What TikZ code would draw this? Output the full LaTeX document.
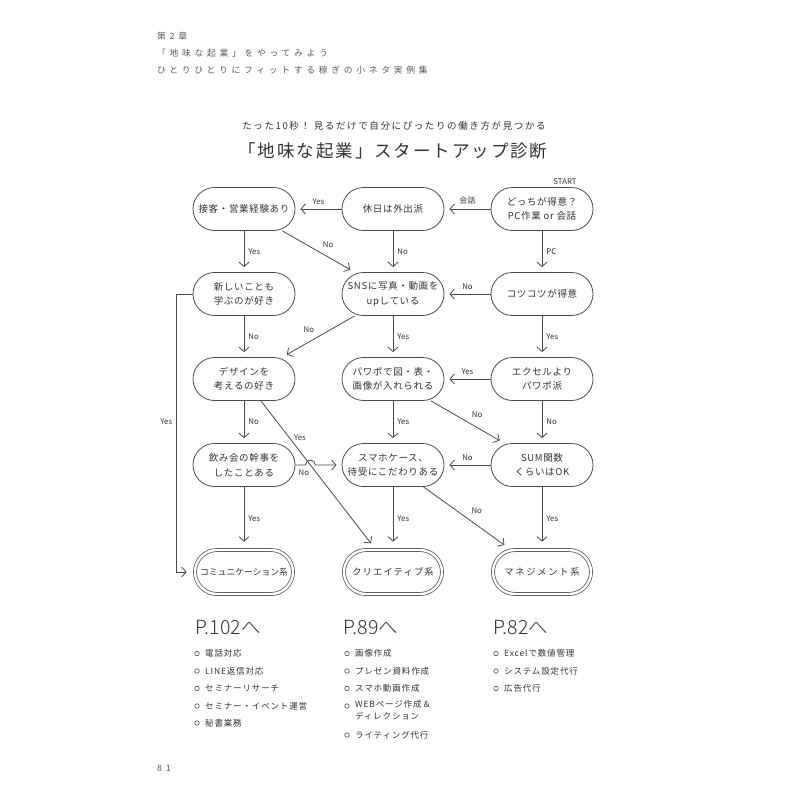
\documentclass[tikz,border=0pt]{standalone}
\usepackage{fontspec}
\setmainfont{Noto Sans CJK JP}
\IfFontExistsTF{Noto Sans CJK JP Light}{\newfontfamily\thinfont{Noto Sans CJK JP Light}}{\newfontfamily\thinfont{Noto Sans CJK JP}}
\usetikzlibrary{arrows.meta,calc}
\definecolor{txt}{HTML}{333333}
\definecolor{ln}{HTML}{4A4A4A}
\definecolor{hdr}{HTML}{5A5A5A}
\newcommand{\jfs}[3]{\fontsize{#1}{#2}\selectfont\addfontfeature{LetterSpace=#3}}
\begin{document}
\begin{tikzpicture}[x=1pt,y=-1pt,
  box/.style={rectangle, rounded corners=21.5pt, draw=ln, line width=0.8pt, minimum width=102pt, minimum height=43pt, inner sep=0pt, align=center, text=txt, font=\jfs{9.5}{14.5}{7}},
  res/.style={rectangle, rounded corners=22pt, draw=ln, line width=0.7pt, double=white, double distance=2.4pt, minimum width=98pt, minimum height=44pt, inner sep=0pt, align=center, text=txt},
  arr/.style={draw=ln, line width=0.8pt, -{Straight Barb[length=4.5pt,width=10pt]}, shorten >=5pt},
  arre/.style={arr, shorten >=8pt},
  lbl/.style={text=txt, font=\jfs{7.8}{9}{0}, inner sep=4pt},
  hdrs/.style={anchor=west, inner sep=0pt, text=hdr, font=\jfs{8.8}{10}{42}},
  bul/.style={circle, draw=ln, line width=0.6pt, minimum size=4.5pt, inner sep=0pt},
  item/.style={anchor=west, inner sep=0pt, text=txt, align=left, font=\jfs{8.5}{12}{10}},
  page/.style={anchor=west, inner sep=0pt, text=txt, font=\thinfont\jfs{19.5}{22}{0}}
]
\useasboundingbox (0,0) rectangle (800,800);
\fill[white] (0,0) rectangle (800,800);

% header
\node[hdrs] (h1) at (157,36) {第2章};
\node[hdrs] (h2) at (157,53) {「地味な起業」をやってみよう};
\node[hdrs] (h3) at (157,70) {ひとりひとりにフィットする稼ぎの小ネタ実例集};

% title
\node[text=txt, inner sep=0pt, font=\jfs{9.5}{11}{17}] (sub) at (394,126) {たった10秒！ 見るだけで自分にぴったりの働き方が見つかる};
\node[text=txt, inner sep=0pt, font=\jfs{17.5}{20}{11}] (ttl) at (393,151) {「地味な起業」スタートアップ診断};

% flowchart nodes
\node[box] (a1) at (244,209) {接客・営業経験あり};
\node[box] (a2) at (393,209) {休日は外出派};
\node[box] (a3) at (542,209) {どっちが得意？\\PC作業 or 会話};
\node[lbl] (start) at (565,182) {START};

\node[box] (b1) at (244,294) {新しいことも\\学ぶのが好き};
\node[box] (b2) at (393,294) {SNSに写真・動画を\\upしている};
\node[box] (b3) at (542,294) {コツコツが得意};

\node[box] (c1) at (244,379) {デザインを\\考えるの好き};
\node[box] (c2) at (393,379) {パワポで図・表・\\画像が入れられる};
\node[box] (c3) at (542,379) {エクセルより\\パワポ派};

\node[box] (d1) at (244,465) {飲み会の幹事を\\したことある};
\node[box] (d2) at (393,465) {スマホケース、\\待受にこだわりある};
\node[box] (d3) at (542,465) {SUM関数\\くらいはOK};

\node[res, font=\jfs{8.8}{12}{0}] (e1) at (244,572) {コミュニケーション系};
\node[res, font=\jfs{9.3}{12}{12}] (e2) at (393,572) {クリエイティブ系};
\node[res, font=\jfs{9.3}{12}{18}] (e3) at (542,572) {マネジメント系};

% row 1
\draw[arr] (a3) -- node[lbl,above]{会話} (a2);
\draw[arr] (a2) -- node[lbl,above]{Yes} (a1);
\draw[arr] (a1) -- node[lbl,right]{Yes} (b1);
\draw[arr] (a1) -- node[lbl,above right,pos=0.5]{No} (b2);
\draw[arr] (a2) -- node[lbl,right]{No} (b2);
\draw[arr] (a3) -- node[lbl,right]{PC} (b3);
% row 2
\draw[arr] (b3) -- node[lbl,above]{No} (b2);
\draw[arr] (b2) -- node[lbl,above left,pos=0.5]{No} (c1);
\draw[arr] (b1) -- node[lbl,right]{No} (c1);
\draw[arr] (b2) -- node[lbl,right]{Yes} (c2);
\draw[arr] (b3) -- node[lbl,right]{Yes} (c3);
\draw[arre] (b1.west) -- ++(-16,0) |- node[lbl,left,pos=0.23]{Yes} (e1.west);
% row 3
\draw[arr] (c3) -- node[lbl,above]{Yes} (c2);
\draw[arr] (c2) -- node[lbl,above right,pos=0.5]{No} (d3);
\draw[arr] (c1) -- node[lbl,right]{No} (d1);
\draw[arr] (c2) -- node[lbl,right]{Yes} (d2);
\draw[arr] (c3) -- node[lbl,right]{No} (d3);
\draw[arre] (c1) -- node[lbl,right,pos=0.25]{Yes} (e2);
% row 4
\coordinate (hopL) at (305.4,465);
\draw[arr] (d1.east) -- node[lbl,below,pos=0.85]{No} (hopL) arc[start angle=180,end angle=0,radius=5pt] -- (d2.west);
\draw[arr] (d3) -- node[lbl,above]{No} (d2);
\draw[arre] (d1) -- node[lbl,right]{Yes} (e1);
\draw[arre] (d2) -- node[lbl,right]{Yes} (e2);
\draw[arre] (d2) -- node[lbl,above right,pos=0.5]{No} (e3);
\draw[arre] (d3) -- node[lbl,right]{Yes} (e3);

% results
\node[page] (p1) at (195,628) {P.102へ};
\node[page] (p2) at (343,628) {P.89へ};
\node[page] (p3) at (493,628) {P.82へ};

\node[bul] (l1a) at (197,653.5) {}; \node[item] (t1a) at (205,653.5) {電話対応};
\node[bul] (l1b) at (197,671) {};   \node[item] (t1b) at (205,671) {LINE返信対応};
\node[bul] (l1c) at (197,688.5) {}; \node[item] (t1c) at (205,688.5) {セミナーリサーチ};
\node[bul] (l1d) at (197,706) {};   \node[item] (t1d) at (205,706) {セミナー・イベント運営};
\node[bul] (l1e) at (197,723) {};   \node[item] (t1e) at (205,723) {秘書業務};

\node[bul] (l2a) at (347,653.5) {}; \node[item] (t2a) at (355,653.5) {画像作成};
\node[bul] (l2b) at (347,671) {};   \node[item] (t2b) at (355,671) {プレゼン資料作成};
\node[bul] (l2c) at (347,688.5) {}; \node[item] (t2c) at (355,688.5) {スマホ動画作成};
\node[bul] (l2d) at (347,706) {};   \node[item, anchor=north west] (t2d) at (355,700) {WEBページ作成＆\\ディレクション};
\node[bul] (l2e) at (347,735) {};   \node[item] (t2e) at (355,735) {ライティング代行};

\node[bul] (l3a) at (496,653.5) {}; \node[item] (t3a) at (504,653.5) {Excelで数値管理};
\node[bul] (l3b) at (496,671) {};   \node[item] (t3b) at (504,671) {システム設定代行};
\node[bul] (l3c) at (496,688.5) {}; \node[item] (t3c) at (504,688.5) {広告代行};

\node[hdrs] (pg) at (157,768) {81};
\end{tikzpicture}
\end{document}
